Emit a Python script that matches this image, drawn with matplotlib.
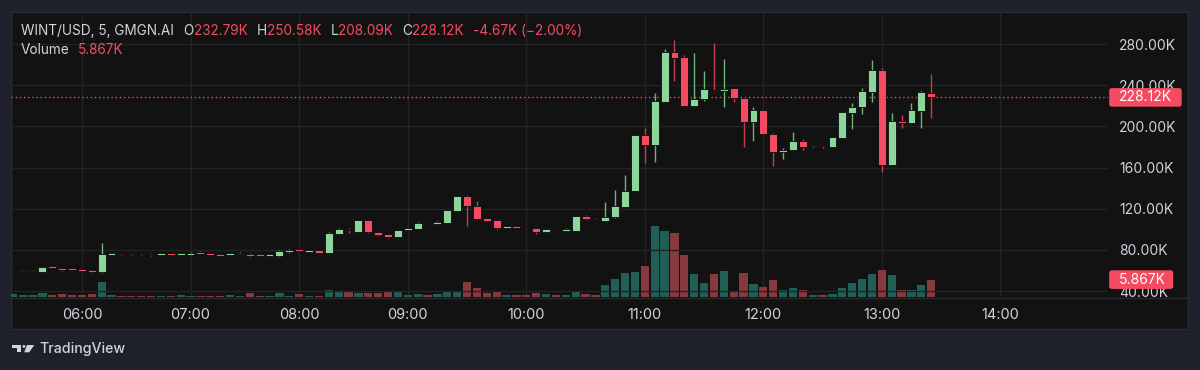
import matplotlib
matplotlib.use("Agg")
import matplotlib.pyplot as plt
from matplotlib.patches import Rectangle, Polygon, Ellipse, FancyBboxPatch
from matplotlib.lines import Line2D
from matplotlib.transforms import blended_transform_factory, ScaledTranslation

plt.rcParams['font.family'] = ['Inter', 'DejaVu Sans']

# 5-minute candles, values in thousands of USD
opens = [58.5, 59.4, 59.6, 58.8, 64.3, 62.3, 62.0, 61.6, 60.7, 58.0,
         75.1, 77.0, 77.0, 77.0, 76.3, 75.0, 77.0, 75.0, 75.3, 78.2,
         77.0, 75.6, 75.0, 76.0, 76.3, 75.5, 74.0, 73.7, 77.6, 80.8,
         77.8, 79.4, 76.9, 95.7, 100.0, 97.6, 109.0, 97.6, 95.4, 92.2,
         99.0, 100.5, 107.3, 105.5, 105.8, 118.0, 132.3, 122.6, 111.0, 108.7,
         101.6, 103.0, 102.0, 101.5, 97.3, 100.5, 98.7, 98.7, 112.9, 110.3,
         108.2, 111.6, 121.8, 137.0, 191.3, 182.2, 223.9, 272.5, 267.0, 219.5,
         226.3, 235.3, 234.3, 237.0, 227.8, 204.0, 215.9, 193.0, 175.4, 177.0,
         186.0, 180.6, 181.9, 180.2, 188.7, 212.9, 218.8, 233.4, 254.4, 162.4,
         205.5, 203.0, 215.2, 232.79]
highs = [59.5, 60.6, 60.5, 63.5, 64.5, 62.5, 62.2, 61.8, 60.9, 87.0,
         77.2, 77.2, 77.2, 77.2, 76.5, 77.2, 77.2, 77.2, 77.5, 78.4,
         77.2, 75.8, 77.2, 77.5, 76.5, 75.7, 76.0, 79.4, 81.0, 81.0,
         80.2, 79.6, 96.9, 101.5, 101.5, 109.2, 109.2, 97.8, 95.6, 99.7,
         101.5, 106.6, 107.5, 108.4, 118.9, 132.5, 133.3, 127.7, 111.2, 108.9,
         103.2, 103.2, 102.2, 101.7, 100.2, 100.7, 100.8, 113.1, 114.0, 110.5,
         126.5, 138.0, 152.8, 191.5, 198.1, 232.0, 275.2, 283.9, 269.3, 271.0,
         253.8, 281.3, 265.1, 237.2, 228.0, 219.1, 216.1, 193.2, 179.0, 194.2,
         187.3, 182.1, 182.1, 189.6, 214.1, 222.4, 237.0, 264.4, 256.4, 212.7,
         211.0, 223.0, 234.3, 250.58]
lows = [58.3, 59.2, 59.4, 58.6, 62.1, 59.4, 60.4, 59.5, 57.4, 57.8,
        74.9, 75.3, 75.3, 75.3, 74.4, 74.8, 74.8, 74.8, 75.1, 76.2,
        74.8, 73.8, 74.8, 75.8, 72.6, 73.8, 73.8, 73.5, 77.4, 78.7,
        77.6, 77.1, 76.7, 95.5, 96.0, 97.4, 96.8, 93.4, 91.3, 92.0,
        98.8, 100.3, 105.6, 105.3, 105.6, 117.8, 103.2, 109.8, 107.8, 100.0,
        101.4, 101.4, 100.6, 95.0, 97.1, 98.8, 98.5, 98.5, 109.0, 108.8,
        108.0, 111.4, 121.6, 136.8, 164.0, 165.6, 223.7, 244.3, 219.3, 219.3,
        224.9, 233.8, 219.0, 223.4, 180.2, 186.0, 192.1, 161.0, 168.0, 176.8,
        177.0, 180.0, 179.0, 180.0, 188.5, 197.1, 212.0, 223.4, 156.0, 162.2,
        198.4, 202.8, 198.4, 208.09]
closes = [59.4, 60.4, 60.4, 63.3, 62.3, 60.4, 60.6, 59.7, 58.1, 76.0,
          77.0, 75.5, 75.5, 75.5, 74.6, 77.0, 75.0, 77.0, 77.3, 76.4,
          75.0, 74.0, 77.0, 77.3, 74.0, 74.0, 75.8, 79.2, 80.1, 78.9,
          80.0, 77.3, 96.7, 100.0, 99.3, 109.0, 97.0, 94.4, 92.2, 99.5,
          100.8, 106.4, 105.8, 107.4, 118.7, 132.3, 122.6, 110.0, 108.0, 101.0,
          103.0, 101.6, 100.8, 97.3, 100.0, 99.0, 100.6, 112.9, 109.5, 109.0,
          112.2, 122.3, 137.5, 191.3, 182.2, 224.9, 272.5, 266.7, 219.5, 226.6,
          236.0, 234.0, 236.6, 227.2, 204.0, 215.9, 192.3, 175.4, 177.4, 186.0,
          180.0, 181.9, 181.0, 189.4, 213.9, 219.1, 234.0, 254.4, 162.4, 205.2,
          203.5, 215.9, 233.1, 228.12]
volumes = [1.0, 0.55, 0.55, 1.35, 0.55, 1.0, 0.55, 0.55, 1.0, 4.95,
           0.55, 0.5, 0.5, 0.5, 0.45, 0.5, 0.5, 0.55, 0.5, 0.45,
           0.5, 0.5, 0.55, 0.5, 1.2, 0.5, 0.5, 1.45, 0.5, 0.9,
           0.5, 0.5, 2.25, 1.7, 1.55, 1.2, 1.45, 1.2, 1.9, 1.9,
           0.55, 1.0, 0.55, 0.9, 2.0, 1.9, 4.95, 2.9, 1.2, 2.0,
           0.55, 0.55, 0.55, 1.45, 0.9, 0.55, 0.55, 1.9, 0.85, 0.55,
           3.9, 6.1, 8.0, 8.4, 10.3, 23.9, 22.1, 21.6, 14.2, 7.9,
           4.8, 7.6, 8.9, 1.9, 8.0, 4.3, 3.35, 5.8, 2.5, 2.9,
           2.2, 0.55, 0.8, 1.0, 3.1, 4.7, 6.0, 7.6, 9.2, 7.4,
           2.5, 2.5, 3.9, 5.867]

time_ticks = [7, 18, 29, 40, 52, 64, 76, 88, 100]
time_labels = ["06:00", "07:00", "08:00", "09:00", "10:00", "11:00", "12:00", "13:00", "14:00"]
price_ticks = [40, 80, 120, 160, 200, 240, 280]
change_text = "-4.67K (\u22122.00%)"

UP = '#8cd69b'
DOWN = '#f44b62'
UP_WICK = '#6cb47b'
DOWN_WICK = '#c43d52'
UP_VOL = '#1f5f55'
DOWN_VOL = '#873940'
BG = '#1e212b'
PANEL = '#121212'
GRID = '#232323'
TXT = '#d1d4dc'

W, H = 1200, 370


def fx(px):
    return px / W


def fy(py):
    return 1 - py / H


fig = plt.figure(figsize=(W / 100, H / 100), dpi=100, facecolor=BG)
fig.patches.append(Rectangle((fx(11), fy(329)), 1177 / W, 317 / H, transform=fig.transFigure,
                             fc=PANEL, ec='#2a2d35', lw=1, zorder=-5))

ax_v = fig.add_axes([fx(11), fy(297), 1097 / W, 285 / H])
ax = ax_v.twinx()
for a in (ax_v, ax):
    a.set_facecolor('none')
    for s in a.spines.values():
        s.set_visible(False)

x = list(range(len(closes)))
up = [c >= o for o, c in zip(opens, closes)]

# volume
ax_v.bar(x, volumes, width=0.84, color=[UP_VOL if u else DOWN_VOL for u in up], lw=0)
ax_v.set_ylim(0, 96.1)
ax_v.set_yticks([])
ax_v.set_xlim(-0.18, 110.9)
ax_v.set_xticks(time_ticks, time_labels)
ax_v.tick_params(axis='x', length=0, pad=8, labelsize=10.5, labelcolor=TXT)
ax_v.grid(axis='x', color=GRID, lw=1)
ax_v.set_axisbelow(True)

# candles
ax.vlines(x, lows, highs, colors=[UP_WICK if u else DOWN_WICK for u in up], lw=1.0, zorder=2)
bodies = [max(abs(c - o), 1.2) for o, c in zip(opens, closes)]
bottoms = [min(o, c) for o, c in zip(opens, closes)]
ax.bar(x, bodies, bottom=bottoms, width=0.8, color=[UP if u else DOWN for u in up],
       edgecolor='#0b0b0b', lw=0.6, zorder=3)
ax.set_ylim(34.18, 311.1)
ax.set_yticks(price_ticks, [f"{p:.2f}K" for p in price_ticks])
ax.tick_params(axis='y', length=0, pad=8, labelsize=10, labelcolor=TXT)
ax.grid(axis='y', color=GRID, lw=1)
ax.set_axisbelow(True)
ax.axhline(closes[-1], color=DOWN, lw=1, ls=(0, (1, 2)), zorder=1)

# bottom separator of the time scale
fig.add_artist(Line2D([fx(11), fx(1188)], [fy(297.5), fy(297.5)], color='#2b2b2b', lw=1))


# last value labels on the price scale
def last_label(axis, value, width_in, text):
    anchor = ScaledTranslation(1, value, blended_transform_factory(axis.transAxes, axis.transData))
    tr = fig.dpi_scale_trans + anchor
    fig.patches.append(FancyBboxPatch((0.012, -0.093), width_in, 0.186,
                                      boxstyle='round,pad=0,rounding_size=0.025',
                                      transform=tr, fc=DOWN, ec='none', zorder=5))
    fig.text(0.11, 0.0, text, transform=tr, color='white', fontsize=10, va='center', ha='left', zorder=6)


last_label(ax, closes[-1], 0.725, f"{closes[-1]:.2f}K")
last_label(ax_v, volumes[-1], 0.64, f"{volumes[-1]:.3f}K")

# legend header
parts = [("WINT/USD, 5, GMGN.AI", TXT, 0), ("O", TXT, 7), (f"{opens[-1]:.2f}K", DOWN, 0),
         ("H", TXT, 6.5), (f"{highs[-1]:.2f}K", DOWN, 0), ("L", TXT, 6.5), (f"{lows[-1]:.2f}K", DOWN, 0),
         ("C", TXT, 6.5), (f"{closes[-1]:.2f}K", DOWN, 0), (change_text, DOWN, 7)]
prev = None
for s, col, gap in parts:
    if prev is None:
        prev = fig.text(fx(21), fy(31), s, color=col, fontsize=9.8, va='center', ha='left')
    else:
        prev = ax.annotate(s, xy=(1, 0), xycoords=prev, xytext=(gap, 0), textcoords='offset points',
                           color=col, fontsize=9.8, va='bottom', ha='left')
vol_lbl = fig.text(fx(21), fy(50), "Volume", color=TXT, fontsize=9.8, va='center', ha='left')
ax.annotate(f"{volumes[-1]:.3f}K", xy=(1, 0), xycoords=vol_lbl, xytext=(6, 0), textcoords='offset points',
            color=DOWN, fontsize=9.8, va='bottom', ha='left')

# TradingView footer
fig.patches.append(Polygon([(fx(11.7), fy(345)), (fx(21), fy(345)), (fx(21), fy(352.3)), (fx(16.5), fy(352.3)),
                            (fx(16.5), fy(347.8)), (fx(11.7), fy(347.8))], closed=True,
                           transform=fig.transFigure, fc=TXT, ec='none'))
fig.patches.append(Ellipse((fx(23.9), fy(346.4)), 2.9 / W, 2.9 / H, transform=fig.transFigure, fc=TXT, ec='none'))
fig.patches.append(Polygon([(fx(27.0), fy(345)), (fx(34.3), fy(345)), (fx(29.2), fy(352.3)), (fx(24.2), fy(352.3))],
                           closed=True, transform=fig.transFigure, fc=TXT, ec='none'))
fig.text(fx(39), fy(349), "TradingView", color=TXT, fontsize=10.2, fontweight='medium', va='center', ha='left')

fig.savefig("out.png", dpi=100, facecolor=BG)
